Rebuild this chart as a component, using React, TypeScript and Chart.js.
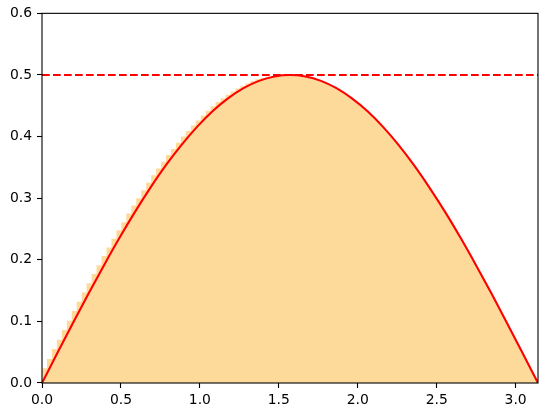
import { useEffect, useRef } from 'react';
import { Chart, registerables } from 'chart.js';

Chart.register(...registerables);

// histogram (density) of samples on [0, pi], 100 bins
const binStart = 0;
const binEnd = 3.1416;
const binHeights = [
  0.008, 0.024, 0.039, 0.055, 0.07, 0.086, 0.101, 0.117, 0.132, 0.147,
  0.162, 0.177, 0.191, 0.206, 0.22, 0.234, 0.248, 0.261, 0.275, 0.288,
  0.3, 0.313, 0.325, 0.337, 0.348, 0.359, 0.37, 0.38, 0.39, 0.4,
  0.409, 0.418, 0.426, 0.434, 0.442, 0.449, 0.456, 0.462, 0.468, 0.473,
  0.478, 0.482, 0.486, 0.49, 0.493, 0.495, 0.497, 0.498, 0.499, 0.5,
  0.5, 0.499, 0.498, 0.497, 0.495, 0.493, 0.49, 0.486, 0.482, 0.478,
  0.473, 0.468, 0.462, 0.456, 0.449, 0.442, 0.434, 0.426, 0.418, 0.409,
  0.4, 0.39, 0.38, 0.37, 0.359, 0.348, 0.337, 0.325, 0.313, 0.3,
  0.288, 0.275, 0.261, 0.248, 0.234, 0.22, 0.206, 0.191, 0.177, 0.162,
  0.147, 0.132, 0.117, 0.101, 0.086, 0.07, 0.055, 0.039, 0.024, 0.008,
];

// red density curve
const curveX = [
  0.0, 0.098, 0.196, 0.295, 0.393, 0.491, 0.589, 0.687, 0.785, 0.884, 0.982,
  1.08, 1.178, 1.276, 1.374, 1.473, 1.571, 1.669, 1.767, 1.865, 1.963, 2.062,
  2.16, 2.258, 2.356, 2.454, 2.553, 2.651, 2.749, 2.847, 2.945, 3.043, 3.1416,
];
const curveY = [
  0.0, 0.049, 0.0975, 0.1451, 0.1913, 0.2357, 0.2778, 0.3172, 0.3536, 0.3865, 0.4157,
  0.441, 0.4619, 0.4785, 0.4904, 0.4976, 0.5, 0.4976, 0.4904, 0.4785, 0.4619, 0.441,
  0.4157, 0.3865, 0.3536, 0.3172, 0.2778, 0.2357, 0.1913, 0.1451, 0.0975, 0.049, 0.0,
];

const maxLine = 0.5;
const xMin = 0;
const xMax = 3.1416;
const yMin = 0;
const yMax = 0.6;

const FILL = 'rgb(254, 218, 154)';
const FONT = { family: 'DejaVu Sans', size: 13.9 };

const frame = {
  id: 'frame',
  afterDatasetsDraw(chart: Chart) {
    const { ctx, chartArea } = chart;
    ctx.save();
    ctx.strokeStyle = '#000';
    ctx.lineWidth = 1.1;
    ctx.strokeRect(chartArea.left, chartArea.top, chartArea.right - chartArea.left, chartArea.bottom - chartArea.top);
    ctx.restore();
  },
};

export default function App() {
  const canvasRef = useRef<HTMLCanvasElement | null>(null);

  useEffect(() => {
    const canvas = canvasRef.current;
    if (!canvas) return;

    // step outline: one point per bin left edge, plus the closing right edge
    const binWidth = (binEnd - binStart) / binHeights.length;
    const steps = binHeights.map((h, i) => ({ x: binStart + i * binWidth, y: h }));
    steps.push({ x: binEnd, y: binHeights[binHeights.length - 1] });
    const curve = curveX.map((x, i) => ({ x, y: curveY[i] }));

    const chart = new Chart(canvas, {
      type: 'line',
      data: {
        datasets: [
          {
            data: curve,
            borderColor: '#ff0000',
            borderWidth: 2.1,
            backgroundColor: FILL,
            pointRadius: 0,
            cubicInterpolationMode: 'monotone',
            fill: 'origin',
            order: 1,
          },
          {
            data: [
              { x: xMin, y: maxLine },
              { x: xMax, y: maxLine },
            ],
            borderColor: '#ff0000',
            borderWidth: 2.1,
            borderDash: [7.7, 3.3],
            pointRadius: 0,
            fill: false,
            order: 2,
          },
          {
            data: steps,
            stepped: 'after',
            borderWidth: 0,
            borderColor: 'rgba(0,0,0,0)',
            backgroundColor: FILL,
            pointRadius: 0,
            fill: 'origin',
            order: 3,
          },
        ],
      },
      options: {
        animation: false,
        responsive: true,
        maintainAspectRatio: false,
        layout: { padding: { top: 13, right: 9, left: 0, bottom: 0 } },
        plugins: { legend: { display: false }, tooltip: { enabled: false } },
        scales: {
          x: {
            type: 'linear',
            min: xMin,
            max: xMax,
            grid: {
              drawOnChartArea: false,
              drawTicks: true,
              tickLength: 5,
              tickColor: '#000',
              tickWidth: 1.1,
            },
            border: { display: false },
            ticks: {
              stepSize: 0.5,
              includeBounds: false,
              autoSkip: false,
              maxRotation: 0,
              padding: 4,
              color: '#000',
              font: FONT,
              callback: (v) => Number(v).toFixed(1),
            },
            afterFit: (scale) => {
              scale.height = 35;
            },
          },
          y: {
            type: 'linear',
            min: yMin,
            max: yMax,
            grid: {
              drawOnChartArea: false,
              drawTicks: true,
              tickLength: 5,
              tickColor: '#000',
              tickWidth: 1.1,
            },
            border: { display: false },
            ticks: {
              stepSize: 0.1,
              includeBounds: false,
              padding: 5,
              color: '#000',
              font: FONT,
              callback: (v) => Number(v).toFixed(1),
            },
            afterFit: (scale) => {
              scale.width = 42;
            },
          },
        },
      },
      plugins: [frame],
    });

    return () => chart.destroy();
  }, []);

  return (
    <div style={{ position: 'absolute', left: 0, top: 0, width: 547, height: 418, background: '#fff' }}>
      <canvas ref={canvasRef} />
    </div>
  );
}
